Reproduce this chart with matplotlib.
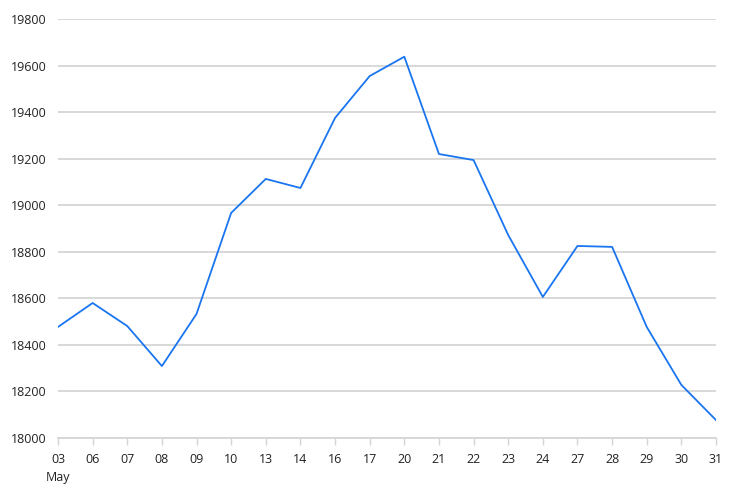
import matplotlib
matplotlib.use('Agg')
import matplotlib.pyplot as plt

days = ['03', '06', '07', '08', '09', '10', '13', '14', '16', '17',
        '20', '21', '22', '23', '24', '27', '28', '29', '30', '31']
values = [18477, 18580, 18481, 18309, 18533, 18967, 19113, 19074, 19375, 19555,
          19638, 19220, 19194, 18872, 18606, 18825, 18821, 18477, 18228, 18077]
y_ticks = [18000, 18200, 18400, 18600, 18800, 19000, 19200, 19400, 19600, 19800]

plt.rcParams['font.family'] = ['Open Sans', 'DejaVu Sans']

fig = plt.figure(figsize=(7.38, 4.98), dpi=100)
ax = fig.add_axes([58 / 738, 1 - 438 / 498, (716 - 58) / 738, (438 - 19) / 498])

x = list(range(len(days)))
ax.plot(x, values, color='#1a75f0', linewidth=1.3, zorder=3)

ax.set_xlim(0, len(days) - 1)
ax.set_ylim(18000, 19800)
ax.set_yticks(y_ticks)
ax.set_yticklabels([str(v) for v in y_ticks])
ax.set_xticks(x)
labels = list(days)
labels[0] = '03\nMay'
ax.set_xticklabels(labels, linespacing=1.5, va='top')

ax.grid(axis='y', color='#d6d6d6', linewidth=1.3, zorder=0)
ax.grid(axis='x', visible=False)
for s in ['top', 'right', 'left']:
    ax.spines[s].set_visible(False)
ax.spines['bottom'].set_color('#d6d6d6')
ax.spines['bottom'].set_linewidth(1.3)

ax.tick_params(axis='y', length=0, pad=8, labelsize=9, labelcolor='#222222')
ax.tick_params(axis='x', length=5, width=1, color='#d6d6d6', pad=6, labelsize=9, labelcolor='#222222')

fig.savefig('out.png', dpi=100, facecolor='white')
